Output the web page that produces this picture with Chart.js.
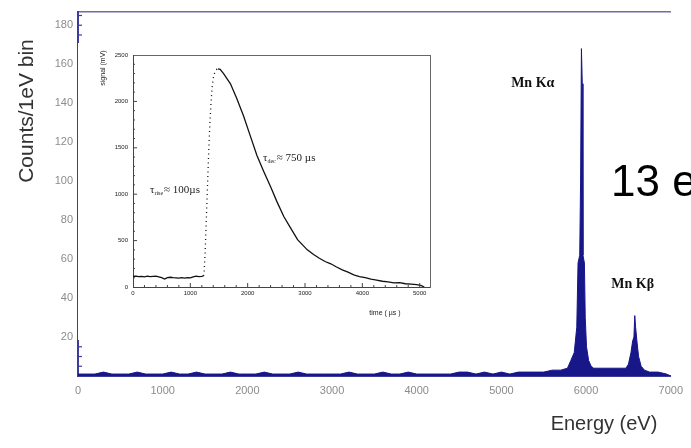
<!DOCTYPE html>
<html><head><meta charset="utf-8">
<script src="https://cdn.jsdelivr.net/npm/chart.js@4/dist/chart.umd.min.js"></script>
<style>
html,body{margin:0;padding:0;background:#fff;}
#wrap{position:relative;width:691px;height:448px;overflow:hidden;background:#fff;}
#main{position:absolute;left:0;top:0;}
#inset{position:absolute;left:78px;top:43px;background:#fff;}
</style></head><body>
<div id="wrap">
<canvas id="main" width="691" height="448"></canvas>
<canvas id="inset" width="377" height="297"></canvas>
</div>
<script>
// ---- Main spectrum data ----
const energy = [0,100,200,300,400,500,600,700,800,900,1000,1100,1200,1300,1400,1500,1600,1700,1800,1900,2000,2100,2200,2300,2400,2500,2600,2700,2800,2900,3000,3100,3200,3300,3400,3500,3600,3700,3800,3900,4000,4100,4200,4300,4400,4500,4600,4700,4800,4900,5000,5100,5200,5300,5400,5500,5600,5700,5780,5820,5860,5890,5905,5925,5935,5945,5955,5963,5980,5990,6005,6030,6060,6090,6150,6250,6350,6430,6470,6500,6530,6550,6565,6575,6585,6600,6620,6650,6690,6750,6850,6950,7000];
const counts = [1,1,1,2,1,1,1,2,1,1,1,2,1,1,2,1,1,1,2,1,1,1,2,1,1,1,2,1,1,1,1,1,2,1,1,1,2,1,1,2,1,1,1,1,1,2,2,1,2,1,2,1,2,2,2,2,3,3,4,8,12,25,58,62,100,168,150,62,58,30,15,8,5,4,4,4,4,4,4,6,12,18,20,31,25,18,10,5,3,2,2,1,0];
const energyTicks = [0,1000,2000,3000,4000,5000,6000,7000];
const countTicks = [20,40,60,80,100,120,140,160,180];
const peakLabels = ['Mn Kα','Mn Kβ'];
const peakLabelPos = [[5370,150],[6550,47]];

// ---- Inset pulse data ----
const time = [0,50,100,150,200,250,300,350,400,450,500,550,600,650,700,750,800,850,900,950,1000,1050,1100,1150,1200,1230,1240,1260,1280,1300,1320,1340,1360,1380,1400,1420,1440,1460,1480,1520,1580,1700,1810,1930,2050,2160,2280,2400,2510,2630,2750,2870,3040,3150,3250,3350,3450,3550,3650,3750,3850,3950,4050,4150,4250,4350,4450,4550,4650,4750,4850,4950,5030,5080];
const signal = [115,118,112,115,110,118,112,115,118,110,100,85,100,105,100,98,95,100,95,100,98,110,118,112,115,120,150,400,750,1100,1450,1750,1980,2150,2250,2300,2330,2345,2350,2345,2300,2190,2030,1840,1620,1420,1245,1080,920,760,635,510,400,350,310,275,250,215,185,160,130,112,100,85,75,62,55,45,48,35,30,25,14,0];
const timeTicks = [0,1000,2000,3000,4000,5000];
const signalTicks = [0,500,1000,1500,2000,2500];
const riseStart = 1230, riseEnd = 1480;

const AX = '#3c3c9a';
const fixTicks = arr => s => { s.ticks = arr.map(v => ({value: v})); };
const plain = v => String(v);

const mainDeco = {
  id: 'mainDeco',
  afterDraw(chart) {
    const {ctx, scales:{x, y}} = chart;
    ctx.save();
    ctx.strokeStyle = AX; ctx.lineWidth = 1.2;
    for (let v = 5; v < 187; v += 5) {
      const py = y.getPixelForValue(v);
      ctx.beginPath(); ctx.moveTo(x.left, py); ctx.lineTo(x.left + 4, py); ctx.stroke();
    }
    ctx.fillStyle = '#111';
    ctx.font = 'bold 14px "Liberation Serif"';
    ctx.textAlign = 'center'; ctx.textBaseline = 'middle';
    peakLabels.forEach((t, i) => ctx.fillText(t, x.getPixelForValue(peakLabelPos[i][0]), y.getPixelForValue(peakLabelPos[i][1])));
    ctx.fillStyle = '#333';
    ctx.font = '20px "Liberation Sans"';
    ctx.fillText('Energy (eV)', 604, 424);
    ctx.save();
    ctx.translate(27, 111); ctx.rotate(-Math.PI/2);
    ctx.font = '21px "Liberation Sans"';
    ctx.fillText('Counts/1eV bin', 0, 0);
    ctx.restore();
    ctx.fillStyle = '#000';
    ctx.textAlign = 'left'; ctx.textBaseline = 'alphabetic';
    ctx.font = '44px "Liberation Sans"';
    ctx.fillText('13 eV', 611, 196);
    ctx.restore();
  }
};

new Chart(document.getElementById('main'), {
  type: 'scatter',
  data: { datasets: [{
    data: energy.map((e, i) => ({x: e, y: counts[i]})),
    showLine: true, fill: 'origin', tension: 0,
    borderColor: '#17178a', backgroundColor: '#17178a', borderWidth: 1, pointRadius: 0
  }]},
  options: {
    responsive: false, animation: false,
    layout: { padding: {left: 0, right: 16, top: 8, bottom: 0} },
    plugins: { legend: {display: false}, tooltip: {enabled: false} },
    scales: {
      x: { type: 'linear', min: 0, max: 7000, afterBuildTicks: fixTicks(energyTicks),
        grid: {display: false, drawTicks: false}, border: {display: true, color: AX, width: 2},
        ticks: {padding: 8, color: '#8c8c8c', font: {family: 'Liberation Sans', size: 11}, maxRotation: 0, autoSkip: false, callback: plain},
        afterFit: s => { s.height = 72; } },
      x2: { type: 'linear', position: 'top', min: 0, max: 7000,
        grid: {display: false, drawTicks: false}, border: {display: true, color: '#6e6ea6', width: 1.5},
        ticks: {display: false}, afterFit: s => { s.height = 0; } },
      y: { min: 0, max: 187, afterBuildTicks: fixTicks(countTicks),
        grid: {display: false, drawTicks: false}, border: {display: true, color: AX, width: 2},
        ticks: {padding: 5, color: '#8c8c8c', font: {family: 'Liberation Sans', size: 11}, autoSkip: false, callback: plain},
        afterFit: s => { s.width = 78; } }
    }
  },
  plugins: [mainDeco]
});

const insetDeco = {
  id: 'insetDeco',
  afterDraw(chart) {
    const {ctx, scales:{x, y}} = chart;
    ctx.save();
    ctx.strokeStyle = '#444'; ctx.lineWidth = 1;
    for (let v = 200; v < 5180; v += 200) {
      const px = x.getPixelForValue(v), len = v % 1000 === 0 ? 4 : 2;
      ctx.beginPath(); ctx.moveTo(px, y.bottom); ctx.lineTo(px, y.bottom - len); ctx.stroke();
    }
    for (let v = 100; v < 2500; v += 100) {
      const py = y.getPixelForValue(v), len = v % 500 === 0 ? 4 : 2;
      ctx.beginPath(); ctx.moveTo(x.left, py); ctx.lineTo(x.left + len, py); ctx.stroke();
    }
    ctx.fillStyle = '#222';
    ctx.font = '7px "Liberation Sans"';
    ctx.textAlign = 'center'; ctx.textBaseline = 'middle';
    ctx.fillText('time ( µs )', 307, 270);
    ctx.save(); ctx.translate(25, 25); ctx.rotate(-Math.PI/2);
    ctx.fillText('signal (mV)', 0, 0); ctx.restore();
    const tau = (px, py, sub, rest) => {
      ctx.textAlign = 'left'; ctx.textBaseline = 'alphabetic';
      ctx.font = '11px "Liberation Serif"';
      ctx.fillText('τ', px, py);
      let w = ctx.measureText('τ').width;
      ctx.font = '6px "Liberation Serif"';
      ctx.fillText(sub, px + w, py + 2);
      w += ctx.measureText(sub).width + 1;
      ctx.font = '11px "Liberation Serif"';
      ctx.fillText(rest, px + w, py);
    };
    tau(x.getPixelForValue(296), y.getPixelForValue(1013), 'rise', '≈ 100µs');
    tau(x.getPixelForValue(2268), y.getPixelForValue(1358), 'dec', '≈ 750 µs');
    ctx.restore();
  }
};

new Chart(document.getElementById('inset'), {
  type: 'scatter',
  data: { datasets: [{
    data: time.map((t, i) => ({x: t, y: signal[i]})),
    showLine: true, tension: 0, borderColor: '#111', borderWidth: 1.3, pointRadius: 0,
    segment: { borderDash: c => (c.p0.parsed.x >= riseStart && c.p1.parsed.x <= riseEnd) ? [1, 3.5] : undefined }
  }]},
  options: {
    responsive: false, animation: false,
    layout: { padding: {left: 0, right: 25, top: 12, bottom: 0} },
    plugins: { legend: {display: false}, tooltip: {enabled: false} },
    scales: {
      x: { type: 'linear', min: 0, max: 5180, afterBuildTicks: fixTicks(timeTicks),
        grid: {display: false, drawTicks: false}, border: {display: true, color: '#444', width: 1},
        ticks: {padding: 3, color: '#222', font: {family: 'Liberation Sans', size: 6}, maxRotation: 0, autoSkip: false, callback: plain},
        afterFit: s => { s.height = 53; } },
      x2: { type: 'linear', position: 'top', min: 0, max: 5180,
        grid: {display: false, drawTicks: false}, border: {display: true, color: '#666', width: 1},
        ticks: {display: false}, afterFit: s => { s.height = 0; } },
      y: { min: 0, max: 2500, afterBuildTicks: fixTicks(signalTicks),
        grid: {display: false, drawTicks: false}, border: {display: true, color: '#444', width: 1},
        ticks: {padding: 5, color: '#222', font: {family: 'Liberation Sans', size: 6}, autoSkip: false, callback: plain},
        afterFit: s => { s.width = 55; } },
      y2: { position: 'right', min: 0, max: 2500,
        grid: {display: false, drawTicks: false}, border: {display: true, color: '#666', width: 1},
        ticks: {display: false}, afterFit: s => { s.width = 0; } }
    }
  },
  plugins: [insetDeco]
});
</script>
</body></html>
